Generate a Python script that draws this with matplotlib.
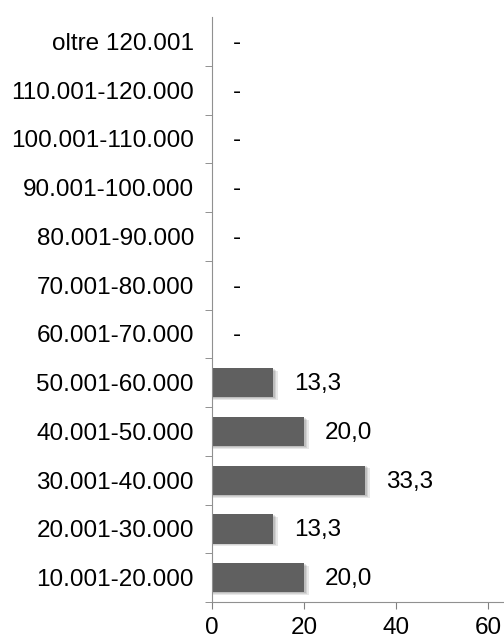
import matplotlib.pyplot as plt
import numpy as np

plt.rcParams['font.family'] = ['Liberation Sans', 'DejaVu Sans']

categories = ['10.001-20.000', '20.001-30.000', '30.001-40.000', '40.001-50.000',
              '50.001-60.000', '60.001-70.000', '70.001-80.000', '80.001-90.000',
              '90.001-100.000', '100.001-110.000', '110.001-120.000', 'oltre 120.001']
values = [20.0, 13.3, 33.3, 20.0, 13.3, 0, 0, 0, 0, 0, 0, 0]
xticks = [0, 20, 40, 60]

fig = plt.figure(figsize=(5.04, 6.39), dpi=100)
ax = fig.add_axes([212/504, 1 - 602/639, 1 - 212/504, (602 - 17)/639])

y = np.arange(len(categories))
fs = 17.5

# soft shadow, a few offset translucent bars
for k, a in [(1.2, 0.18), (0.8, 0.18), (0.4, 0.2)]:
    ax.barh(y - 0.05*k, [v + 0.9*k if v > 0 else 0 for v in values], height=0.6,
            color='#000000', alpha=a*0.5, linewidth=0, zorder=1)
ax.barh(y, values, height=0.6, color='#606060', linewidth=0, zorder=2)

for yi, v in zip(y, values):
    lab = '-' if v == 0 else f'{v:.1f}'.replace('.', ',')
    ax.annotate(lab, (v, yi), xytext=(15, -1), textcoords='offset points',
                ha='left', va='center', fontsize=fs, color='#000000')

ax.set_xlim(0, 63.5)
ax.set_ylim(-0.5, len(categories) - 0.5)
ax.set_xticks(xticks)
ax.set_xticklabels([str(t) for t in xticks], fontsize=fs)
ax.set_yticks(y)
ax.set_yticklabels(categories, fontsize=fs)
ax.set_yticks(np.arange(len(categories)) - 0.5, minor=True)
ax.tick_params(axis='y', which='major', length=0, pad=13)
ax.tick_params(axis='y', which='minor', length=5, color='#808080')
ax.tick_params(axis='x', length=5, color='#808080', pad=6)

for s in ['top', 'right']:
    ax.spines[s].set_visible(False)
for s in ['left', 'bottom']:
    ax.spines[s].set_color('#909090')

fig.savefig('out.png', dpi=100)
